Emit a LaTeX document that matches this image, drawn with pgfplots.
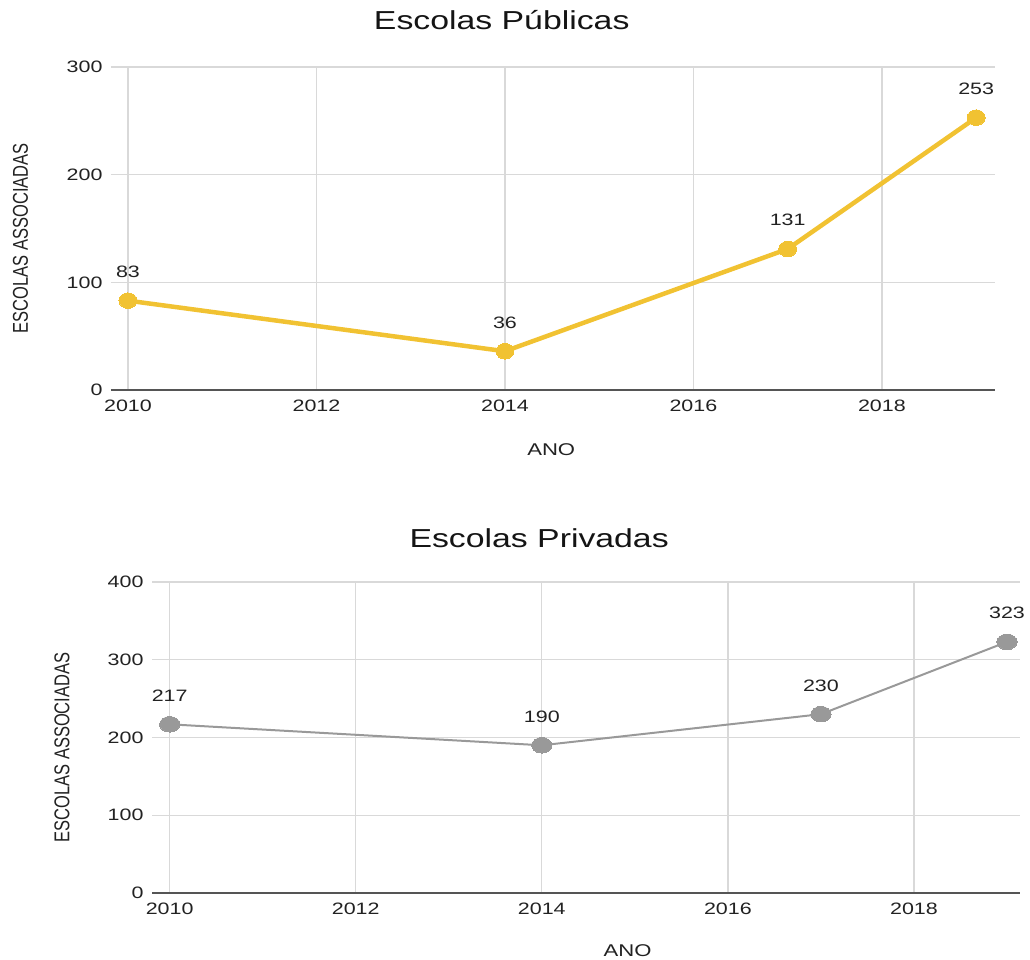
\documentclass[border=0pt]{standalone}
\usepackage{pgfplots}
\pgfplotsset{compat=1.18}
\usepackage{fontspec}
\setmainfont{Liberation Sans}
\definecolor{gold}{HTML}{F1C232}
\definecolor{grayline}{HTML}{999999}
\definecolor{gridc}{HTML}{D9D9D9}
\definecolor{txt}{HTML}{222222}
\definecolor{basec}{HTML}{555555}
\begin{document}
\begin{tikzpicture}
\useasboundingbox (0pt,0pt) rectangle (1030pt,-959pt);
\pgfplotsset{
  base/.style={
    scale only axis, anchor=south west, clip=false,
    axis line style={draw=none},
    major tick length=0pt,
    grid=major,
    grid style={draw=gridc, line width=1.3pt},
    xtick={2010,2012,2014,2016,2018},
    /pgf/number format/assume math mode=true,
    /pgf/number format/1000 sep={},
    tick label style={font=\fontsize{16.5}{18}\selectfont, text=txt},
    xticklabel={\scalebox{1.3}[1]{\pgfmathprintnumber{\tick}}},
    yticklabel={\scalebox{1.3}[1]{\pgfmathprintnumber{\tick}}},
    xticklabel style={yshift=-6.5pt},
    yticklabel style={xshift=-5pt},
    nodes near coords={\scalebox{1.3}[1]{\pgfmathprintnumber{\pgfplotspointmeta}}},
    every node near coord/.append style={font=\fontsize{16.5}{18}\selectfont, text=txt, anchor=south, yshift=19.5pt},
    xlabel={\scalebox{1.3}[1]{ANO}},
    xlabel style={font=\fontsize{17}{19}\selectfont, text=txt, anchor=base},
    ylabel={\scalebox{1}[1.3]{ESCOLAS ASSOCIADAS}},
    ylabel style={font=\fontsize{16.5}{18}\selectfont, text=txt, anchor=center},
    title style={font=\fontsize{26}{30}\selectfont, text=black!92, anchor=base},
  }
}
% Top panel
\begin{axis}[base,
  at={(111pt,-390pt)}, width=884pt, height=323pt,
  xmin=2009.82, xmax=2019.2, ymin=0, ymax=300,
  ytick={0,100,200,300},
  title={\scalebox{1.3}[1]{Escolas Públicas}},
  title style={at={(0.442,1)}, yshift=32pt},
  xlabel style={at={(0.498,0)}, yshift=-65pt},
  ylabel style={at={(-0.1024,0.47)}},
]
\draw[basec, line width=1.5pt] (rel axis cs:0,0) -- (rel axis cs:1,0);
\addplot[gold, line width=4.5pt, mark=*, mark size=7.8pt, mark options={xscale=1.15, fill=gold, draw=gold, line width=0pt}] coordinates {
  (2010,83) (2014,36) (2017,131) (2019,253)
};
\end{axis}
% Bottom panel
\begin{axis}[base,
  at={(152pt,-893pt)}, width=868pt, height=311pt,
  xmin=2009.81, xmax=2019.14, ymin=0, ymax=400,
  ytick={0,100,200,300,400},
  title={\scalebox{1.3}[1]{Escolas Privadas}},
  title style={at={(0.446,1)}, yshift=29pt},
  xlabel style={at={(0.548,0)}, yshift=-63pt},
  ylabel style={at={(-0.1037,0.468)}},
]
\draw[basec, line width=1.5pt] (rel axis cs:0,0) -- (rel axis cs:1,0);
\addplot[grayline, line width=2pt, mark=*, mark size=7.8pt, mark options={xscale=1.3, fill=grayline, draw=grayline, line width=0pt}] coordinates {
  (2010,217) (2014,190) (2017,230) (2019,323)
};
\end{axis}
\end{tikzpicture}
\end{document}
